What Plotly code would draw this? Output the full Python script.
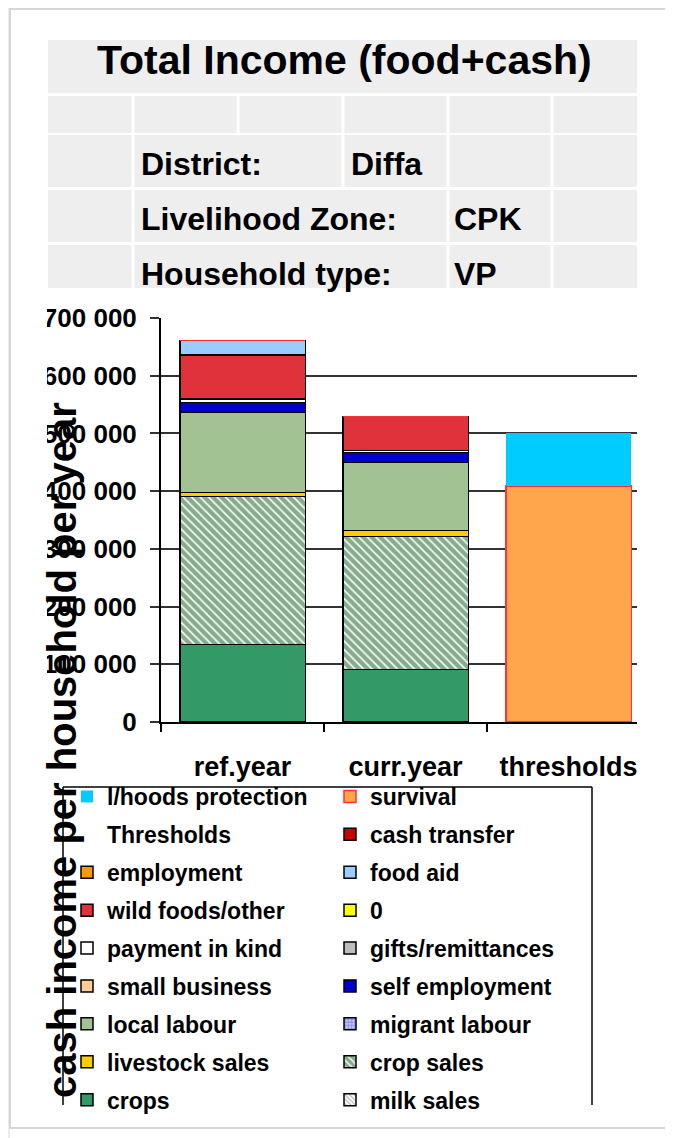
import plotly.graph_objects as go

# ---------------- data ----------------
categories = ["ref.year", "curr.year", "thresholds"]

crops = [134000, 91000, 0]
milk_sales = [0, 0, 0]
crop_sales = [257000, 230000, 0]
livestock_sales = [7000, 11000, 0]
migrant_labour = [0, 0, 0]
local_labour = [138000, 118000, 0]
self_employment = [18000, 17000, 0]
small_business = [0, 0, 0]
gifts_remittances = [0, 0, 0]
payment_in_kind = [6000, 3000, 0]
zero_series = [0, 0, 0]
wild_foods_other = [76000, 59000, 0]
food_aid = [25000, 0, 0]
employment = [0, 0, 0]
cash_transfer = [0, 0, 0]
survival = [0, 0, 409000]
thresholds_label = [0, 0, 0]
lhoods_protection = [0, 0, 92000]

y_ticks = [0, 100000, 200000, 300000, 400000, 500000, 600000, 700000]

# ---------------- geometry helpers ----------------
# coordinates below are given in screen pixels of the target picture;
# the page body adds an 8px offset, which is removed here.
OFF = 8
W, H = 673, 1138
L, R, T, B = 161 - OFF, 637 - OFF, 318 - OFF, 722 - OFF


def px(x):
    return (x - OFF - L) / (R - L)


def py(y):
    return (B - (y - OFF)) / (B - T)


FONT = "Liberation Sans, Arial, sans-serif"

BLACK_LINE = dict(color="black", width=1.5)
NO_LINE = dict(color="rgba(0,0,0,0)", width=0)

# (name, values, marker, legend, rank) in stacking order (bottom -> top)
series = [
    ("crops", crops, dict(color="#339966", line=BLACK_LINE), "legend", 9),
    ("milk sales", milk_sales, dict(color="white", line=BLACK_LINE,
                                    pattern=dict(shape="\\", fgcolor="#707070", bgcolor="white", size=4, solidity=0.4)), "legend2", 9),
    ("crop sales", crop_sales, dict(color="#145A25", line=BLACK_LINE,
                                    pattern=dict(shape="\\", fgcolor="#145A25", bgcolor="#F6FBF3", size=6, solidity=0.7)), "legend2", 8),
    ("livestock sales", livestock_sales, dict(color="#FFCC00", line=BLACK_LINE), "legend", 8),
    ("migrant labour", migrant_labour, dict(color="#3333CC", line=BLACK_LINE,
                                            pattern=dict(shape="+", fgcolor="#2222BB", bgcolor="#C8C8FF", size=4, solidity=0.4)), "legend2", 7),
    ("local labour", local_labour, dict(color="#A3C293", line=BLACK_LINE), "legend", 7),
    ("self employment", self_employment, dict(color="#0000CC", line=BLACK_LINE), "legend2", 6),
    ("small business", small_business, dict(color="#FFCC99", line=BLACK_LINE), "legend", 6),
    ("gifts/remittances", gifts_remittances, dict(color="#BDBDBD", line=BLACK_LINE), "legend2", 5),
    ("payment in kind", payment_in_kind, dict(color="white", line=BLACK_LINE), "legend", 5),
    ("0", zero_series, dict(color="#FFFF00", line=BLACK_LINE), "legend2", 4),
    ("wild foods/other", wild_foods_other, dict(color="#E0323A", line=BLACK_LINE), "legend", 4),
    ("food aid", food_aid, dict(color="#99CCFF", line=BLACK_LINE), "legend2", 3),
    ("employment", employment, dict(color="#FF9900", line=BLACK_LINE), "legend", 3),
    ("cash transfer", cash_transfer, dict(color="#CC0000", line=BLACK_LINE), "legend2", 2),
    ("Thresholds", thresholds_label, dict(color="rgba(0,0,0,0)", line=NO_LINE), "legend", 2),
    ("survival", survival, dict(color="#FFA64D", line=dict(color="#FF3333", width=1.5)), "legend2", 1),
    ("l/hoods protection", lhoods_protection, dict(color="#00CCFF", line=NO_LINE), "legend", 1),
]

fig = go.Figure()
for name, vals, marker, leg, rank in series:
    fig.add_trace(go.Bar(
        x=categories, y=vals, name=name, marker=marker, width=0.77,
        legend=leg, legendgroup=name, legendrank=rank, hoverinfo="skip",
    ))

# ---------------- decorations ----------------
shapes = []

# header table (grey cells separated by white lines)
rows = [
    (40, 93, [48, 637]),
    (96, 133, [48, 133, 238, 343, 448, 552, 637]),
    (135, 187, [48, 133, 343, 448, 552, 637]),
    (190, 242, [48, 133, 448, 552, 637]),
    (245, 288, [48, 133, 448, 552, 637]),
]
for y0, y1, bounds in rows:
    for i in range(len(bounds) - 1):
        x0 = bounds[i] + (1.5 if i > 0 else 0)
        x1 = bounds[i + 1] - (1.5 if i < len(bounds) - 2 else 0)
        shapes.append(dict(type="rect", xref="paper", yref="paper",
                           x0=px(x0), x1=px(x1), y0=py(y1), y1=py(y0),
                           fillcolor="#EEEEEE", line=dict(width=0), layer="below"))

# clip of tick labels at left edge of the chart area
shapes.append(dict(type="rect", xref="paper", yref="paper",
                   x0=px(12), x1=px(47), y0=py(745), y1=py(292),
                   fillcolor="white", line=dict(width=0), layer="above"))

# legend box (covers lower part of the category labels)
LB_X0, LB_X1, LB_Y0, LB_Y1 = 63, 592, 787, 1105
shapes.append(dict(type="rect", xref="paper", yref="paper",
                   x0=px(LB_X0), x1=px(LB_X1), y0=py(LB_Y1), y1=py(LB_Y0),
                   fillcolor="white", line=dict(width=0), layer="above"))
for (xa, ya, xb, yb) in [(LB_X0, LB_Y0, LB_X1, LB_Y0), (LB_X0, LB_Y0, LB_X0, LB_Y1), (LB_X1, LB_Y0, LB_X1, LB_Y1)]:
    shapes.append(dict(type="line", xref="paper", yref="paper",
                       x0=px(xa), x1=px(xb), y0=py(ya), y1=py(yb),
                       line=dict(color="black", width=1.5), layer="above"))

# outer frame of the screenshot
shapes.append(dict(type="rect", xref="paper", yref="paper",
                   x0=px(8), x1=px(10), y0=py(1138), y1=py(8),
                   fillcolor="#EBEBEB", line=dict(width=0), layer="above"))
shapes.append(dict(type="rect", xref="paper", yref="paper",
                   x0=px(10), x1=px(667), y0=py(1128), y1=py(9),
                   fillcolor="rgba(0,0,0,0)", line=dict(color="#D6D6D6", width=2), layer="above"))

annotations = []


def txt(text, x, y, size, xanchor="left", angle=0):
    annotations.append(dict(text=text, xref="paper", yref="paper", x=px(x), y=py(y),
                            xanchor=xanchor, yanchor="middle", showarrow=False, textangle=angle,
                            font=dict(family=FONT, size=size, color="black", weight=700)))


txt("Total Income (food+cash)", 344, 60, 41, xanchor="center")
txt("District:", 139, 164, 32)
txt("Diffa", 349, 164, 32)
txt("Livelihood Zone:", 139, 219, 32)
txt("CPK", 452, 219, 32)
txt("Household type:", 139, 274, 32)
txt("VP", 452, 274, 32)
txt("cash income per household per year", 62, 750, 40, xanchor="center", angle=-90)

legend_common = dict(
    xanchor="left", yanchor="top", bgcolor="rgba(0,0,0,0)", borderwidth=0,
    font=dict(family=FONT, size=23, color="black", weight=700),
    traceorder="grouped", tracegroupgap=5, valign="middle", orientation="v",
)

fig.update_layout(
    width=W, height=H, autosize=False,
    margin=dict(l=L, r=W - R, t=T, b=H - B, pad=0),
    paper_bgcolor="white", plot_bgcolor="white",
    barmode="stack", separators=". ",
    showlegend=True,
    legend=dict(x=px(67), y=py(775), **legend_common),
    legend2=dict(x=px(330), y=py(775), **legend_common),
    xaxis=dict(
        type="category", range=[-0.5, 2.42], tickson="boundaries",
        ticks="outside", ticklen=8, tickwidth=2, tickcolor="black",
        showline=True, linecolor="black", linewidth=2, showgrid=False,
        tickfont=dict(family=FONT, size=27, color="black", weight=700),
        ticklabelstandoff=20, tickangle=0, automargin=False,
    ),
    yaxis=dict(
        range=[0, 700000], tickvals=y_ticks, tickformat=",d",
        showgrid=True, gridcolor="#333333", gridwidth=2, zeroline=False,
        showline=True, linecolor="black", linewidth=2,
        ticks="outside", ticklen=9, tickwidth=2, tickcolor="#333333",
        tickfont=dict(family=FONT, size=26, color="black", weight=700),
        ticklabelstandoff=8, automargin=False,
    ),
    shapes=shapes,
    annotations=annotations,
)

fig.write_html("out.html")
